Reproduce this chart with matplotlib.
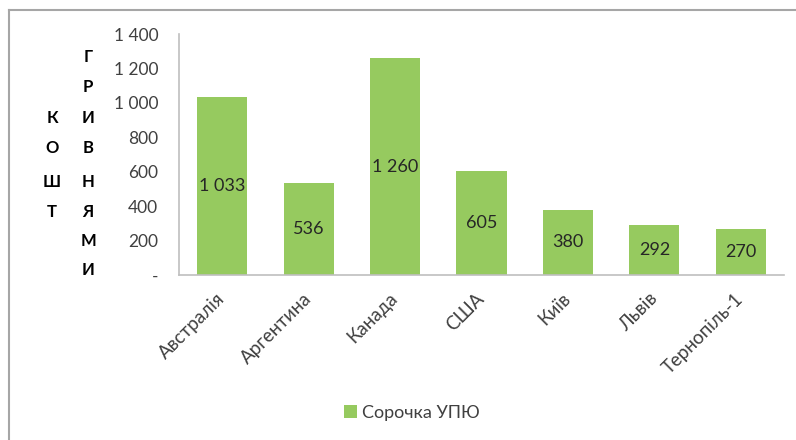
import matplotlib
matplotlib.use("Agg")
import matplotlib.pyplot as plt
from matplotlib.lines import Line2D
from matplotlib.patches import Patch

categories = ["Австралія", "Аргентина", "Канада", "США", "Київ", "Львів", "Тернопіль-1"]
values = [1033, 536, 1260, 605, 380, 292, 270]
yticks = [0, 200, 400, 600, 800, 1000, 1200, 1400]
ytick_labels = ["-", "200", "400", "600", "800", "1 000", "1 200", "1 400"]
series_name = "Сорочка УПЮ"

W, H = 796, 440
plt.rcParams['font.family'] = ['Lato', 'DejaVu Sans']
fig = plt.figure(figsize=(W / 100, H / 100), dpi=100)

bar_color = "#96CA5F"
axis_color = "#BFBFBF"
text_color = "#404040"

ax = fig.add_axes([179 / W, (H - 275) / H, 605 / W, 241 / H])
x = list(range(len(categories)))
bars = ax.bar(x, values, width=0.58, color=bar_color)
ax.set_xlim(-0.5, len(categories) - 0.5)
ax.set_ylim(0, 1400)
ax.set_yticks(yticks)
ax.set_yticklabels(ytick_labels, fontsize=12.5, color=text_color)
ax.set_xticks(x)
ax.set_xticklabels(categories, rotation=45, ha='right', va='center',
                   rotation_mode='anchor', fontsize=13.5, color=text_color)
ax.tick_params(axis='x', length=0, pad=15)
ax.tick_params(axis='y', length=0, pad=15)
for s in ["top", "right"]:
    ax.spines[s].set_visible(False)
for s in ["left", "bottom"]:
    ax.spines[s].set_color(axis_color)
    ax.spines[s].set_linewidth(1.2)

for xi, v in zip(x, values):
    lab = f"{v:,}".replace(",", " ")
    ax.text(xi, v / 2, lab, ha='center', va='center', fontsize=13, color="#262626")

# stacked axis title letters
col1 = "КОШТ"
col2 = "ГРИВНЯМИ"
y2 = [57, 87, 118, 148, 182, 212, 241, 270]
for ch, yy in zip(col2, y2):
    fig.text(88 / W, 1 - yy / H, ch, ha='center', va='center', fontsize=12,
             fontweight='bold', color="#000000")
for ch, yy in zip(col1, y2[2:6]):
    fig.text(52 / W, 1 - yy / H, ch, ha='center', va='center', fontsize=12,
             fontweight='bold', color="#000000")

# legend
handles = [Patch(facecolor=bar_color, edgecolor='none')]
fig.legend(handles, [series_name], loc='center', bbox_to_anchor=(412 / W, 1 - 413 / H),
           frameon=False, fontsize=13, handlelength=0.7, handleheight=0.7,
           handletextpad=0.3, labelcolor=text_color)

# chart border
fig.add_artist(Line2D([9 / W, 1], [1 - 10 / H, 1 - 10 / H], transform=fig.transFigure,
                      color="#A6A6A6", lw=1.5))
fig.add_artist(Line2D([9 / W, 9 / W], [0, 1 - 10 / H], transform=fig.transFigure,
                      color="#A6A6A6", lw=1.5))

fig.savefig("out.png", dpi=100)
